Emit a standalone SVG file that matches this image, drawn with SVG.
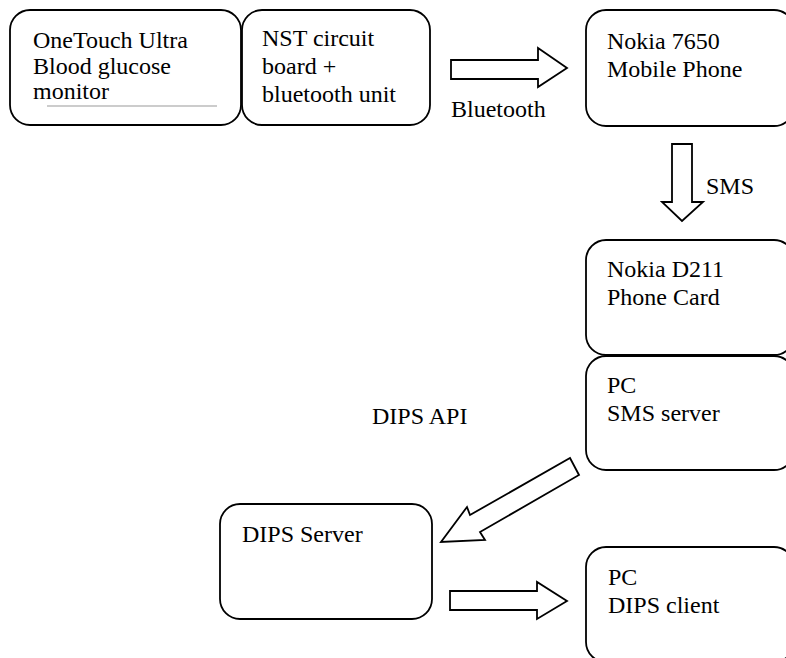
<svg xmlns="http://www.w3.org/2000/svg" width="786" height="658" viewBox="0 0 786 658">
<defs>
<style>
.box{fill:#fff;stroke:#000;stroke-width:1.8}
.arr{fill:#fff;stroke:#000;stroke-width:1.8;stroke-linejoin:miter}
text{font-family:"Liberation Serif","Times New Roman",serif;font-size:24px;fill:#000}
</style>
</defs>
<rect width="786" height="658" fill="#fff"/>
<g id="connectors">
<polygon class="arr" points="451,60 538,60 538,48 567,68 538,87 538,79 451,79"/>
<polygon class="arr" points="672,144 692,144 692,202 703,202 682,221 662,202 672,202"/>
<polygon class="arr" points="570,458 579,475 480,532 485,540 441,542 467,507 470,515"/>
<polygon class="arr" points="450,591 537,591 537,582 567,601 537,619 537,610 450,610"/>
<text x="451" y="117">Bluetooth</text>
<text x="706" y="194">SMS</text>
<text x="372" y="424">DIPS API</text>
</g>
<g id="onetouch">
<rect class="box" x="10" y="10" width="231" height="115" rx="20"/>
<text x="33" y="48">OneTouch Ultra</text>
<text x="33" y="74">Blood glucose</text>
<text x="33" y="99">monitor</text>
<line x1="47" y1="106" x2="217" y2="106" stroke="#999" stroke-width="1"/>
</g>
<g id="nst">
<rect class="box" x="242" y="10" width="188" height="115" rx="20"/>
<text x="262" y="46">NST circuit</text>
<text x="262" y="74">board +</text>
<text x="262" y="102">bluetooth unit</text>
</g>
<g id="nokia7650">
<rect class="box" x="586" y="10" width="208" height="116" rx="20"/>
<text x="607" y="49">Nokia 7650</text>
<text x="607" y="77">Mobile Phone</text>
</g>
<g id="nokiaD211">
<rect class="box" x="586" y="240" width="208" height="115" rx="20"/>
<text x="607" y="277">Nokia D211</text>
<text x="607" y="305">Phone Card</text>
</g>
<g id="smsserver">
<rect class="box" x="586" y="356" width="208" height="114" rx="20"/>
<text x="607" y="393">PC</text>
<text x="607" y="421">SMS server</text>
</g>
<g id="dipsserver">
<rect class="box" x="220" y="504" width="212" height="115" rx="20"/>
<text x="242" y="542">DIPS Server</text>
</g>
<g id="dipsclient">
<rect class="box" x="586" y="547" width="208" height="115" rx="20"/>
<text x="608" y="585">PC</text>
<text x="608" y="613">DIPS client</text>
</g>
</svg>
